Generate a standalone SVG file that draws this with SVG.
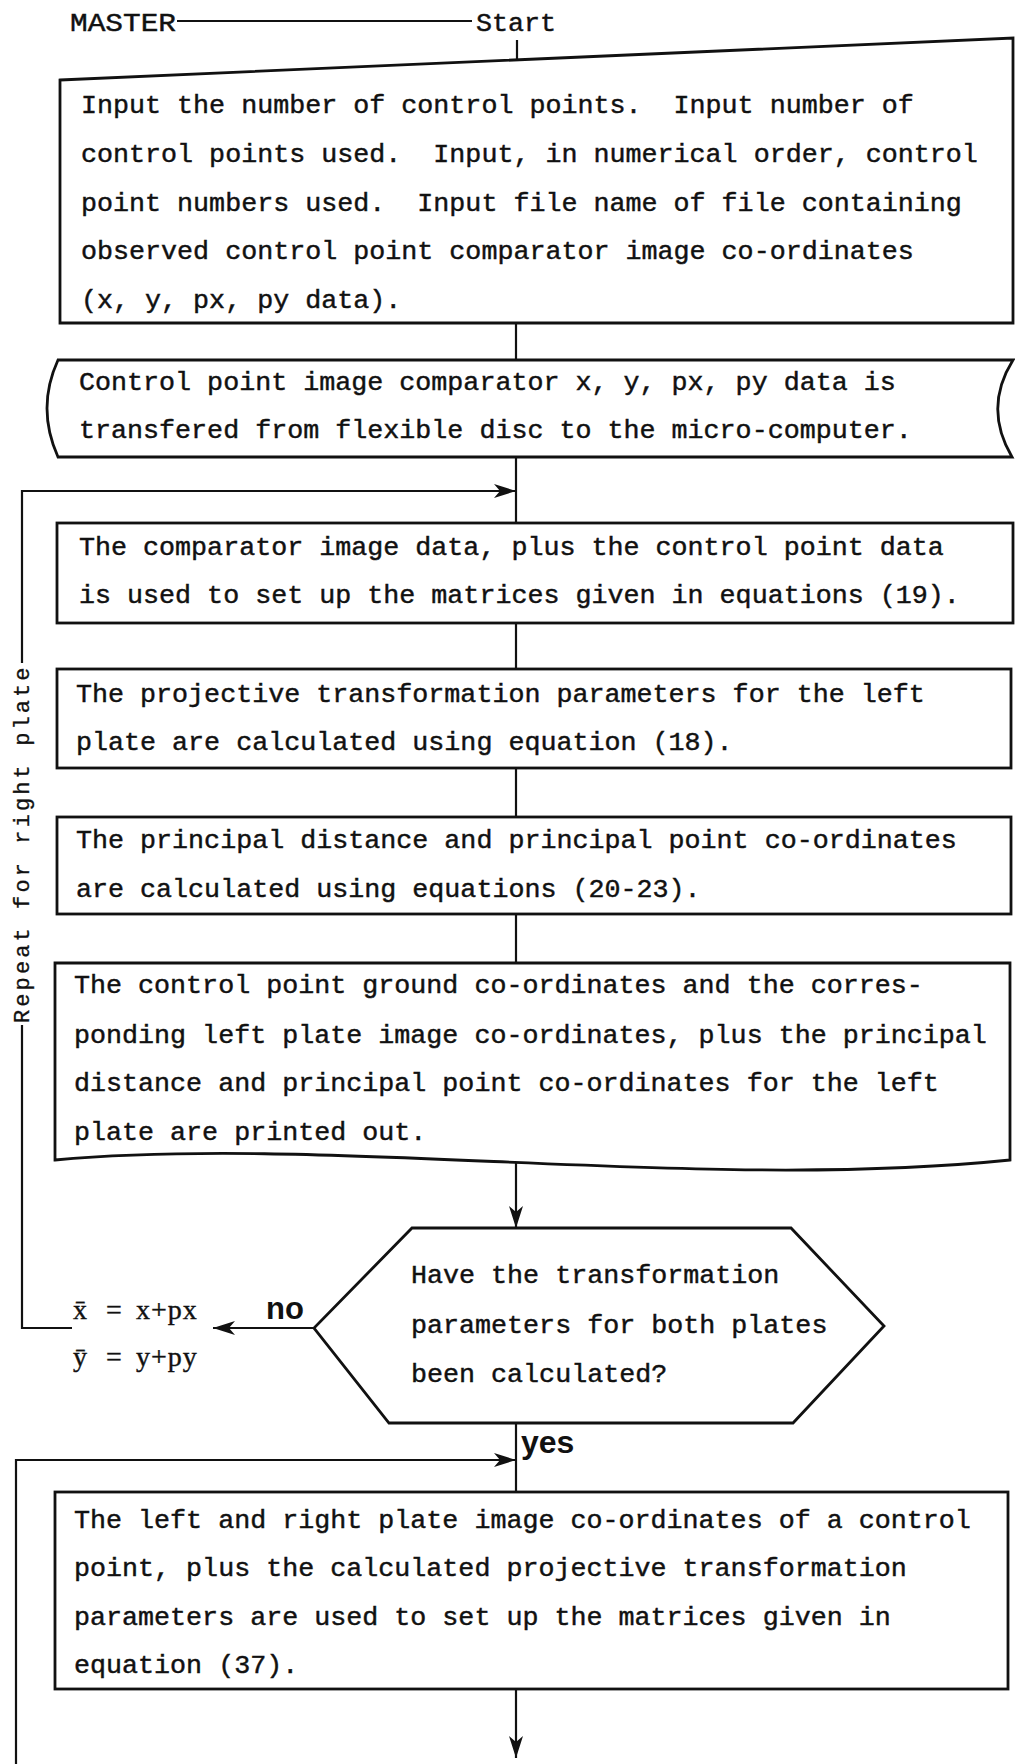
<svg xmlns="http://www.w3.org/2000/svg" width="1015" height="1764" viewBox="0 0 1015 1764">
  <style>
    .bg { fill: #ffffff; }
    .box { fill: none; stroke: #111; stroke-width: 2.8; stroke-linejoin: miter; }
    .ln { fill: none; stroke: #111; stroke-width: 2.2; }
    .t { font-family: "Liberation Mono", "DejaVu Sans Mono", monospace; font-size: 26.7px; fill: #111; stroke: #111; stroke-width: 0.45; white-space: pre; }
    .side { font-family: "Liberation Mono", "DejaVu Sans Mono", monospace; font-size: 22px; letter-spacing: 3.1px; fill: #111; stroke: #111; stroke-width: 0.3; white-space: pre; }
    .lbl { font-family: "Liberation Sans", Arial, sans-serif; font-weight: bold; fill: #111; }
    .eq { font-family: "Liberation Serif", "Times New Roman", serif; font-size: 28px; letter-spacing: 1px; fill: #111; stroke: #111; stroke-width: 0.4; }
  </style>
  <defs>
    <marker id="arr" viewBox="0 0 22 14" refX="22" refY="7" markerWidth="22" markerHeight="14" orient="auto" markerUnits="userSpaceOnUse">
      <path d="M0,0 L22,7 L0,14 L6,7 Z" fill="#111"/>
    </marker>
  </defs>

  <rect class="bg" x="0" y="0" width="1015" height="1764"/>

  <!-- title line -->
  <g id="title">
    <text class="t" x="70" y="31" textLength="106" lengthAdjust="spacingAndGlyphs">MASTER</text>
    <text class="t" x="476" y="31">Start</text>
  </g>

  <!-- manual input -->
  <g id="n-input">
    <path class="box" d="M60,80 L1013,38 L1013,323 L60,323 Z"/>
    <text class="t" x="81" y="113">Input the number of control points.  Input number of</text>
    <text class="t" x="81" y="162">control points used.  Input, in numerical order, control</text>
    <text class="t" x="81" y="211">point numbers used.  Input file name of file containing</text>
    <text class="t" x="81" y="259">observed control point comparator image co-ordinates</text>
    <text class="t" x="81" y="308">(x, y, px, py data).</text>
  </g>

  <!-- stored data transfer -->
  <g id="n-transfer">
    <path class="box" d="M58,360 L1013,360 Q983,408 1012,457 L58,457 Q36,408 58,360 Z"/>
    <text class="t" x="79" y="390">Control point image comparator x, y, px, py data is</text>
    <text class="t" x="79" y="438">transfered from flexible disc to the micro-computer.</text>
  </g>

  <!-- matrices setup -->
  <g id="n-setup">
    <rect class="box" x="57" y="523" width="956" height="100"/>
    <text class="t" x="79" y="555">The comparator image data, plus the control point data</text>
    <text class="t" x="79" y="603">is used to set up the matrices given in equations (19).</text>
  </g>

  <!-- projective parameters -->
  <g id="n-params">
    <rect class="box" x="57" y="669" width="954" height="99"/>
    <text class="t" x="76" y="702">The projective transformation parameters for the left</text>
    <text class="t" x="76" y="750">plate are calculated using equation (18).</text>
  </g>

  <!-- principal distance -->
  <g id="n-principal">
    <rect class="box" x="57" y="817" width="954" height="97"/>
    <text class="t" x="76" y="848">The principal distance and principal point co-ordinates</text>
    <text class="t" x="76" y="897">are calculated using equations (20-23).</text>
  </g>

  <!-- printed output document -->
  <g id="n-print">
    <path class="box" d="M55,963 L1010,963 L1010,1160 C700,1192 330,1135 55,1160 Z"/>
    <text class="t" x="74" y="993">The control point ground co-ordinates and the corres-</text>
    <text class="t" x="74" y="1043">ponding left plate image co-ordinates, plus the principal</text>
    <text class="t" x="74" y="1091">distance and principal point co-ordinates for the left</text>
    <text class="t" x="74" y="1140">plate are printed out.</text>
  </g>

  <!-- decision -->
  <g id="n-decision">
    <path class="box" d="M412,1228 L791,1228 L884,1326 L793,1423 L389,1423 L314,1328 Z"/>
    <text class="t" x="411" y="1283">Have the transformation</text>
    <text class="t" x="411" y="1333">parameters for both plates</text>
    <text class="t" x="411" y="1382">been calculated?</text>
  </g>

  <!-- parallax correction note -->
  <g id="n-correction">
    <text class="eq" y="1319"><tspan x="73">x̄</tspan><tspan x="106">=</tspan><tspan x="136">x+px</tspan></text>
    <text class="eq" y="1366"><tspan x="73">ȳ</tspan><tspan x="106">=</tspan><tspan x="136">y+py</tspan></text>
  </g>

  <!-- intersection matrices -->
  <g id="n-intersect">
    <rect class="box" x="55" y="1492" width="953" height="197"/>
    <text class="t" x="74" y="1528">The left and right plate image co-ordinates of a control</text>
    <text class="t" x="74" y="1576">point, plus the calculated projective transformation</text>
    <text class="t" x="74" y="1625">parameters are used to set up the matrices given in</text>
    <text class="t" x="74" y="1673">equation (37).</text>
  </g>

  <!-- connectors -->
  <g id="connectors">
    <line class="ln" x1="177" y1="21" x2="472" y2="21"/>
    <line class="ln" x1="517" y1="40" x2="517" y2="60"/>
    <line class="ln" x1="516" y1="323" x2="516" y2="360"/>
    <line class="ln" x1="516" y1="457" x2="516" y2="523"/>
    <line class="ln" x1="516" y1="623" x2="516" y2="669"/>
    <line class="ln" x1="516" y1="768" x2="516" y2="817"/>
    <line class="ln" x1="516" y1="914" x2="516" y2="963"/>
    <line class="ln" x1="516" y1="1163" x2="516" y2="1228" marker-end="url(#arr)"/>
    <line class="ln" x1="516" y1="1423" x2="516" y2="1492"/>
    <line class="ln" x1="516" y1="1689" x2="516" y2="1758" marker-end="url(#arr)"/>

    <!-- repeat loop for the right plate -->
    <line class="ln" x1="314" y1="1328" x2="213" y2="1328" marker-end="url(#arr)"/>
    <polyline class="ln" points="72,1328 22,1328 22,1025"/>
    <polyline class="ln" points="22,663 22,491 516,491" marker-end="url(#arr)"/>
    <text class="side" transform="translate(29,1023) rotate(-90)">Repeat for right plate</text>
    <text class="lbl" x="266" y="1319" font-size="31">no</text>

    <!-- loop over control points -->
    <polyline class="ln" points="16,1764 16,1460 516,1460" marker-end="url(#arr)"/>
    <text class="lbl" x="521" y="1453" font-size="32">yes</text>
  </g>
</svg>
